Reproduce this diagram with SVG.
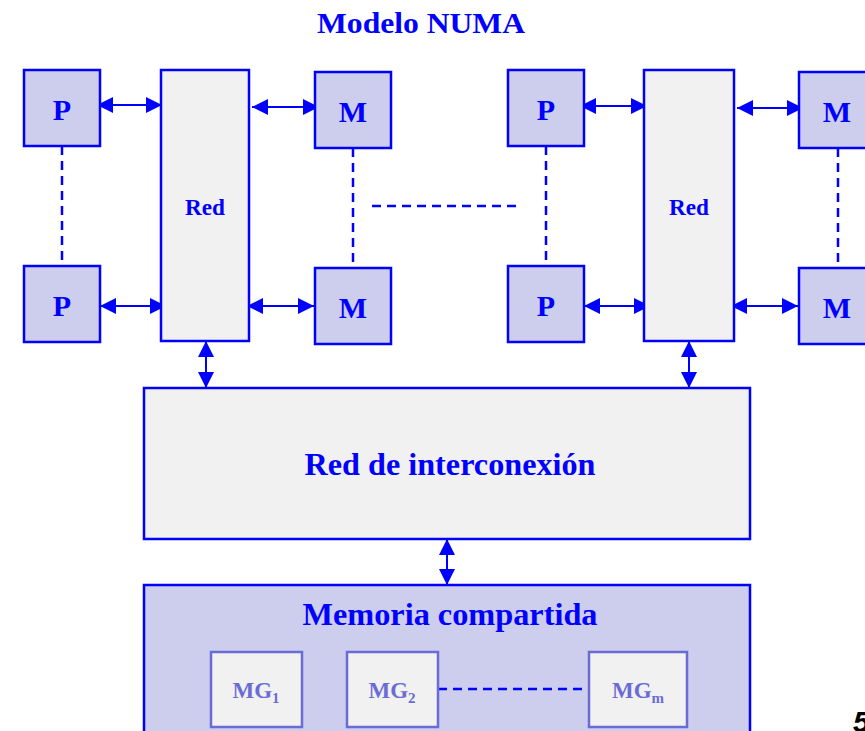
<svg xmlns="http://www.w3.org/2000/svg" width="865" height="731" viewBox="0 0 865 731">
<style>
.t{font-family:"Liberation Serif","Times New Roman",serif;font-weight:bold;fill:#0000ff;text-anchor:middle}
.box{fill:#cdcdee;stroke:#0000ff;stroke-width:2.5}
.net{fill:#f1f1f1;stroke:#0000ff;stroke-width:2.5}
.mg{fill:#f1f1f1;stroke:#6b6bd6;stroke-width:2.5}
.mgt{font-family:"Liberation Serif","Times New Roman",serif;font-weight:bold;fill:#6b6bd6;text-anchor:middle}
.arr{stroke:#0000ff;stroke-width:2;fill:none;marker-start:url(#ah);marker-end:url(#ah)}
.dash{stroke:#0000ff;stroke-width:2.5;fill:none;stroke-dasharray:9 6}
</style>
<defs>
<marker id="ah" markerUnits="userSpaceOnUse" markerWidth="16" markerHeight="16" refX="16" refY="8" orient="auto-start-reverse" viewBox="0 0 16 16">
<path d="M0,0 L16,8 L0,16 z" fill="#0000ff"/>
</marker>
</defs>
<rect width="865" height="731" fill="#ffffff"/>
<text class="t" x="421" y="33" font-size="30" textLength="208" lengthAdjust="spacingAndGlyphs">Modelo NUMA</text>

<g id="connectors">
<line class="arr" x1="97" y1="105" x2="162" y2="105"/>
<line class="arr" x1="100" y1="306" x2="166" y2="306"/>
<line class="arr" x1="252" y1="107" x2="319" y2="107"/>
<line class="arr" x1="247" y1="306" x2="314" y2="306"/>
<line class="arr" x1="580" y1="106" x2="647" y2="106"/>
<line class="arr" x1="584" y1="306" x2="650" y2="306"/>
<line class="arr" x1="737" y1="108" x2="803" y2="108"/>
<line class="arr" x1="731" y1="306" x2="798" y2="306"/>
<line class="arr" x1="206" y1="341" x2="206" y2="388"/>
<line class="arr" x1="689" y1="341" x2="689" y2="388"/>
<line class="arr" x1="447" y1="539" x2="447" y2="585"/>
<line class="dash" x1="62" y1="146" x2="62" y2="266"/>
<line class="dash" x1="353" y1="148" x2="353" y2="268"/>
<line class="dash" x1="546" y1="146" x2="546" y2="266"/>
<line class="dash" x1="838" y1="148" x2="838" y2="268"/>
<line class="dash" x1="372" y1="206" x2="522" y2="206"/>
</g>

<g id="p1"><rect class="box" x="24" y="70" width="76" height="76"/><text class="t" x="62" y="120" font-size="30">P</text></g>
<g id="p2"><rect class="box" x="24" y="266" width="76" height="76"/><text class="t" x="62" y="316" font-size="30">P</text></g>
<g id="red1"><rect class="net" x="161" y="70" width="88" height="271"/><text class="t" x="205" y="215" font-size="23" textLength="40" lengthAdjust="spacingAndGlyphs">Red</text></g>
<g id="m1"><rect class="box" x="315" y="72" width="76" height="76"/><text class="t" x="353" y="122" font-size="30">M</text></g>
<g id="m2"><rect class="box" x="315" y="268" width="76" height="76"/><text class="t" x="353" y="318" font-size="30">M</text></g>

<g id="p3"><rect class="box" x="508" y="70" width="76" height="76"/><text class="t" x="546" y="120" font-size="30">P</text></g>
<g id="p4"><rect class="box" x="508" y="266" width="76" height="76"/><text class="t" x="546" y="316" font-size="30">P</text></g>
<g id="red2"><rect class="net" x="644" y="70" width="90" height="271"/><text class="t" x="689" y="215" font-size="23" textLength="40" lengthAdjust="spacingAndGlyphs">Red</text></g>
<g id="m3"><rect class="box" x="799" y="72" width="76" height="76"/><text class="t" x="837" y="122" font-size="30">M</text></g>
<g id="m4"><rect class="box" x="799" y="268" width="76" height="76"/><text class="t" x="837" y="318" font-size="30">M</text></g>

<g id="interconexion"><rect class="net" x="144" y="388" width="606" height="151"/><text class="t" x="450" y="475" font-size="31" textLength="291" lengthAdjust="spacingAndGlyphs">Red de interconexión</text></g>

<g id="memoria">
<rect class="box" x="144" y="585" width="606" height="170"/>
<text class="t" x="450" y="625" font-size="31" textLength="295" lengthAdjust="spacingAndGlyphs">Memoria compartida</text>
<line class="dash" x1="438" y1="689" x2="589" y2="689"/>
</g>
<g id="mg1"><rect class="mg" x="211" y="652" width="91" height="75"/><text class="mgt" x="256" y="698" font-size="23">MG<tspan font-size="15" dy="5">1</tspan></text></g>
<g id="mg2"><rect class="mg" x="347" y="652" width="91" height="75"/><text class="mgt" x="392" y="698" font-size="23">MG<tspan font-size="15" dy="5">2</tspan></text></g>
<g id="mgm"><rect class="mg" x="589" y="652" width="98" height="75"/><text class="mgt" x="638" y="698" font-size="23">MG<tspan font-size="15" dy="5">m</tspan></text></g>

<text x="853" y="732" font-family="Liberation Sans, Arial, sans-serif" font-size="30" font-style="italic" font-weight="bold" fill="#000000">5</text>
</svg>
